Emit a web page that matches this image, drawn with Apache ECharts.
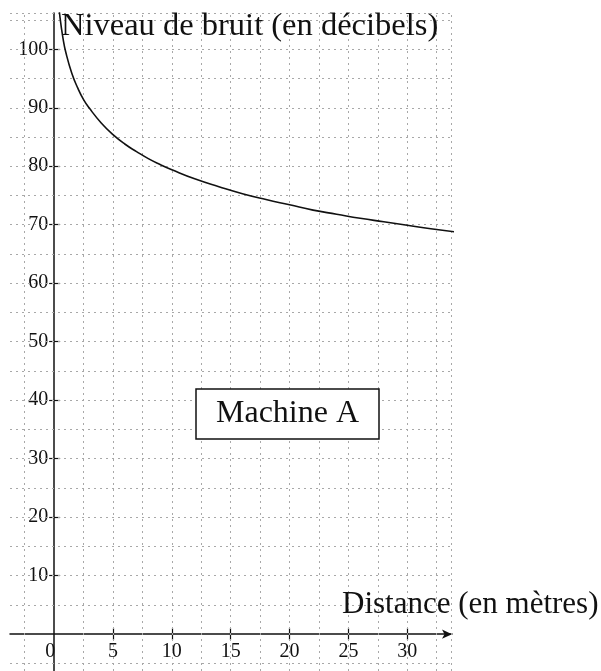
<!DOCTYPE html>
<html>
<head>
<meta charset="utf-8">
<script src="https://cdn.jsdelivr.net/npm/echarts@6/dist/echarts.min.js"></script>
<style>
html,body{margin:0;padding:0;background:#fff;}
#chart{width:601px;height:671px;}
</style>
</head>
<body>
<div id="chart"></div>
<script>
// Data: distance (m) and noise level (dB)
const distances = [0.34, 0.5, 0.75, 1, 1.5, 2, 2.5, 3, 4, 5, 6, 7, 8, 9, 10, 12, 14, 16, 18, 20, 22, 24, 26, 28, 30, 32, 34];
const levels    = [108.8, 105.4, 101.9, 99.4, 95.9, 93.4, 91.4, 89.9, 87.4, 85.4, 83.8, 82.5, 81.3, 80.3, 79.4, 77.8, 76.5, 75.3, 74.3, 73.4, 72.5, 71.8, 71.1, 70.5, 69.9, 69.3, 68.8];
const xTickLabels = [0, 5, 10, 15, 20, 25, 30];
const xTicks = [5, 10, 15, 20, 25, 30];
const yTicks = [10, 20, 30, 40, 50, 60, 70, 80, 90, 100];
const xGridLines = [-2.5, 2.5, 5, 7.5, 10, 12.5, 15, 17.5, 20, 22.5, 25, 27.5, 30, 32.5, 33.7];
const yGridLines = [-5, 5, 10, 15, 20, 25, 30, 35, 40, 45, 50, 55, 60, 65, 70, 75, 80, 85, 90, 95, 100, 105, 106.1];
const yTitle = 'Niveau de bruit (en décibels)';
const xTitle = 'Distance (en mètres)';
const boxLabel = 'Machine A';

const X_MIN = -3.75, X_MAX = 33.8, Y_MIN = -6.3, Y_MAX = 106.2;
const FONT = 'Liberation Serif';
const G = {left: 10, right: 149, top: 13, bottom: 0, W: 601, H: 671};
const gw = G.W - G.left - G.right, gh = G.H - G.top - G.bottom;
// shift axes inward so that they cross at (0, 0)
const yAxisShift = -(0 - X_MIN) / (X_MAX - X_MIN) * gw;
const xAxisShift = -(0 - Y_MIN) / (Y_MAX - Y_MIN) * gh;

const chart = echarts.init(document.getElementById('chart'), null, {renderer: 'canvas'});

const axisLineStyle = {color: '#111', width: 1.5};

const option = {
  backgroundColor: '#fff',
  animation: false,
  title: [
    {text: yTitle, left: 61, top: 10, padding: 0,
     textStyle: {fontFamily: FONT, fontSize: 32.5, fontWeight: 'normal', color: '#111'}},
    {text: xTitle, left: 342, top: 589, padding: 0,
     textStyle: {fontFamily: FONT, fontSize: 31, fontWeight: 'normal', color: '#111'}},
    {text: boxLabel, left: 196, top: 389, padding: [9, 20, 9, 20],
     borderColor: '#111', borderWidth: 1.5, backgroundColor: '#fff',
     textStyle: {fontFamily: FONT, fontSize: 32, fontWeight: 'normal', color: '#111'}}
  ],
  grid: {left: G.left, right: G.right, top: G.top, bottom: G.bottom, containLabel: false, outerBoundsMode: 'none'},
  xAxis: [
    {type: 'value', min: X_MIN, max: X_MAX, position: 'bottom', offset: xAxisShift,
     axisLine: {show: true, onZero: false, lineStyle: axisLineStyle, symbol: ['none', 'arrow'], symbolSize: [7, 10]},
     axisTick: {show: true, customValues: xTicks, length: 6, inside: false, lineStyle: {color: '#111', width: 1.2}},
     axisLabel: {show: true, customValues: xTickLabels, margin: 8,
       fontFamily: FONT, fontSize: 20, color: '#111',
       formatter: v => v === 0 ? '{z|0}' : String(v),
       rich: {z: {fontFamily: FONT, fontSize: 20, color: '#111', padding: [0, 8, 0, 0]}}},
     splitLine: {show: false}},
    {type: 'value', min: X_MIN, max: X_MAX, position: 'bottom', offset: xAxisShift,
     axisLine: {show: false, onZero: false},
     axisTick: {show: true, customValues: xTicks, length: 6, inside: true, lineStyle: {color: '#111', width: 1.2}},
     axisLabel: {show: false},
     splitLine: {show: false}}
  ],
  yAxis: [
    {type: 'value', min: Y_MIN, max: Y_MAX, position: 'left', offset: yAxisShift,
     axisLine: {show: true, onZero: false, lineStyle: axisLineStyle},
     axisTick: {show: true, customValues: yTicks, length: 5, inside: false, lineStyle: {color: '#111', width: 1.2}},
     axisLabel: {show: true, customValues: yTicks, margin: 6,
       fontFamily: FONT, fontSize: 20, color: '#111'},
     splitLine: {show: false}},
    {type: 'value', min: Y_MIN, max: Y_MAX, position: 'left', offset: yAxisShift,
     axisLine: {show: false, onZero: false},
     axisTick: {show: true, customValues: yTicks, length: 6, inside: true, lineStyle: {color: '#111', width: 1.2}},
     axisLabel: {show: false},
     splitLine: {show: false}}
  ],
  series: [
    {type: 'line', name: 'grid', xAxisIndex: 0, yAxisIndex: 0, data: [], silent: true,
     markLine: {silent: true, symbol: ['none', 'none'], label: {show: false},
       lineStyle: {type: [2, 4], color: '#a8a8a8', width: 1},
       data: xGridLines.map(v => ({xAxis: v})).concat(yGridLines.map(v => ({yAxis: v})))}},
    {type: 'line', name: 'Machine A', xAxisIndex: 0, yAxisIndex: 0,
     data: distances.map((d, i) => [d, levels[i]]),
     smooth: true, symbol: 'none', clip: true,
     lineStyle: {color: '#111', width: 1.6}, z: 5}
  ]
};
chart.setOption(option);
</script>
</body>
</html>
